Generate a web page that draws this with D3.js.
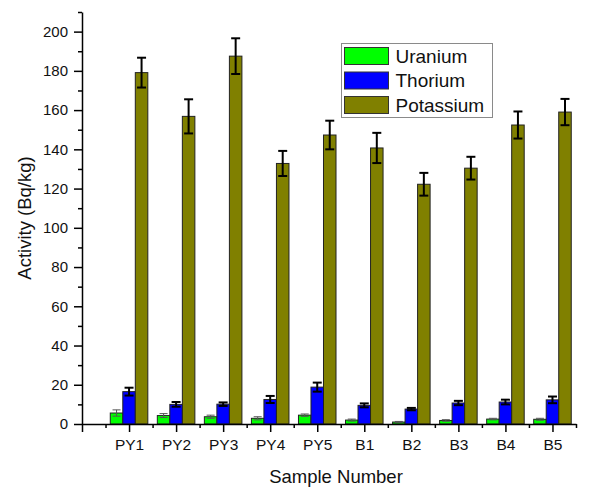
<!DOCTYPE html>
<html>
<head>
<meta charset="utf-8">
<script src="https://cdn.jsdelivr.net/npm/d3@7"></script>
<style>
  html, body { margin: 0; padding: 0; background: #fff; }
  svg { display: block; font-family: "Liberation Sans", Arial, sans-serif; }
</style>
</head>
<body>
<svg id="chart" width="590" height="488"></svg>
<script>
// Sample identifiers along the x axis
const samples = ["PY1", "PY2", "PY3", "PY4", "PY5", "B1", "B2", "B3", "B4", "B5"];

// Activity concentrations (Bq/kg) and their uncertainties
const uranium      = [5.6, 4.3, 3.7, 2.9, 4.5, 2.0, 1.0, 1.8, 2.5, 2.4];
const uraniumErr   = [1.6, 1.0, 0.8, 0.8, 0.6, 0.5, 0.3, 0.4, 0.4, 0.5];
const thorium      = [16.5, 10.0, 10.1, 12.5, 18.8, 9.5, 7.6, 10.7, 11.2, 12.3];
const thoriumErr   = [2.0, 1.2, 0.9, 1.8, 2.3, 1.0, 0.6, 1.1, 1.2, 1.7];
const potassium    = [179.1, 156.8, 187.5, 132.8, 147.3, 140.7, 122.2, 130.4, 152.4, 159.0];
const potassiumErr = [7.6, 8.7, 9.1, 6.4, 7.3, 7.7, 5.8, 5.8, 6.9, 6.7];

const seriesNames = ["Uranium", "Thorium", "Potassium"];
const yMajorTicks = [0, 20, 40, 60, 80, 100, 120, 140, 160, 180, 200];

const series = [
  { name: seriesNames[0], values: uranium,   errors: uraniumErr,   fill: "#00ff00", errColor: "#555", errWidth: 1 },
  { name: seriesNames[1], values: thorium,   errors: thoriumErr,   fill: "#0000ff", errColor: "#000", errWidth: 2 },
  { name: seriesNames[2], values: potassium, errors: potassiumErr, fill: "#808000", errColor: "#000", errWidth: 2 }
];

const svg = d3.select("#chart");

// Linear x scale: sample i sits at position i+1, axis runs 0 .. 10.5
const x = d3.scaleLinear().domain([0, 10.5]).range([82, 576]);
const y = d3.scaleLinear().domain([0, 210]).range([424, 12]);

const barW = 0.266;   // bar width in x-units
const offsets = [-1.5, -0.5, 0.5];

const plot = svg.append("g");

series.forEach((s, si) => {
  const g = plot.append("g");
  const rows = s.values.map((v, i) => ({ v, e: s.errors[i], pos: i + 1 }));

  g.selectAll("rect")
    .data(rows)
    .join("rect")
    .attr("x", d => x(d.pos + offsets[si] * barW))
    .attr("width", x(barW) - x(0))
    .attr("y", d => y(d.v))
    .attr("height", d => y(0) - y(d.v))
    .attr("fill", s.fill)
    .attr("stroke", "#222")
    .attr("stroke-width", 1);

  // error bars
  const cx = d => x(d.pos + (offsets[si] + 0.5) * barW);
  const capHalf = si === 0 ? 4 : 4.5;
  const eb = g.selectAll("g.err").data(rows).join("g").attr("class", "err")
    .attr("stroke", s.errColor).attr("stroke-width", s.errWidth);
  eb.append("line")
    .attr("x1", cx).attr("x2", cx)
    .attr("y1", d => y(d.v + d.e)).attr("y2", d => y(d.v - d.e));
  eb.append("line")
    .attr("x1", d => cx(d) - capHalf).attr("x2", d => cx(d) + capHalf)
    .attr("y1", d => y(d.v + d.e)).attr("y2", d => y(d.v + d.e));
  eb.append("line")
    .attr("x1", d => cx(d) - capHalf).attr("x2", d => cx(d) + capHalf)
    .attr("y1", d => y(d.v - d.e)).attr("y2", d => y(d.v - d.e));
});

// Y axis: minor ticks every 10, labelled major ticks every 20
svg.append("g")
  .attr("transform", `translate(${x(0)},0)`)
  .call(d3.axisLeft(y).tickValues(d3.range(10, 211, 20)).tickSize(4).tickSizeOuter(0).tickFormat(""))
  .call(g => g.select(".domain").remove())
  .call(g => g.selectAll("line").attr("stroke-width", 1.5));

svg.append("g")
  .attr("transform", `translate(${x(0)},0)`)
  .call(d3.axisLeft(y).tickValues(yMajorTicks).tickSize(8).tickSizeOuter(0).tickPadding(6))
  .call(g => g.select(".domain").attr("stroke-width", 1.5))
  .call(g => g.selectAll("line").attr("stroke-width", 1.5))
  .call(g => g.selectAll("text").attr("font-size", 15).attr("fill", "#111")
        .attr("font-family", "Liberation Sans, Arial, sans-serif"));

// X axis: major ticks on samples, minor ticks between them
svg.append("g")
  .attr("transform", `translate(0,${y(0)})`)
  .call(d3.axisBottom(x).tickValues(d3.range(0.5, 10.6, 1)).tickSize(4).tickSizeOuter(0).tickFormat(""))
  .call(g => g.select(".domain").remove())
  .call(g => g.selectAll("line").attr("stroke-width", 1.5));

svg.append("g")
  .attr("transform", `translate(0,${y(0)})`)
  .call(d3.axisBottom(x).tickValues(d3.range(0, 11)).tickSize(8).tickSizeOuter(0).tickPadding(7)
        .tickFormat(d => d === 0 ? "" : samples[d - 1]))
  .call(g => g.select(".domain").attr("stroke-width", 1.5))
  .call(g => g.selectAll("line").attr("stroke-width", 1.5))
  .call(g => g.selectAll("text").attr("font-size", 15.5).attr("fill", "#111")
        .attr("font-family", "Liberation Sans, Arial, sans-serif"));

// Axis titles
svg.append("text")
  .attr("x", 336).attr("y", 483)
  .attr("text-anchor", "middle")
  .attr("font-size", 18.5).attr("fill", "#111")
  .text("Sample Number");

svg.append("text")
  .attr("transform", "translate(31,218) rotate(-90)")
  .attr("text-anchor", "middle")
  .attr("font-size", 18.5).attr("fill", "#111")
  .text("Activity (Bq/kg)");

// Legend
const legend = svg.append("g");
legend.append("rect")
  .attr("x", 341.5).attr("y", 43.5).attr("width", 151).attr("height", 74)
  .attr("fill", "#fff").attr("stroke", "#8a8a8a").attr("stroke-width", 1);

const item = legend.selectAll("g.item").data(series).join("g").attr("class", "item")
  .attr("transform", (d, i) => `translate(0,${i * 24.5})`);
item.append("rect")
  .attr("x", 344.5).attr("y", 47.5).attr("width", 44).attr("height", 17)
  .attr("fill", d => d.fill).attr("stroke", "#333").attr("stroke-width", 1);
item.append("text")
  .attr("x", 395.5).attr("y", 62.5)
  .attr("font-size", 19).attr("fill", "#111")
  .text(d => d.name);
</script>
</body>
</html>
